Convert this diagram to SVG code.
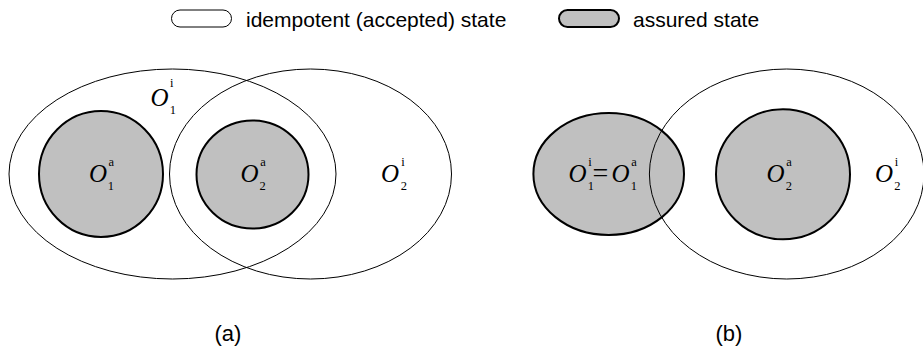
<svg xmlns="http://www.w3.org/2000/svg" width="923" height="349" viewBox="0 0 923 349">
  <style>
    .bg { fill: #ffffff; }
    .idem { fill: none; stroke: #000000; stroke-width: 1; }
    .assured { fill: #c0c0c0; stroke: #000000; stroke-width: 2; }
    .legend-idem { fill: #ffffff; stroke: #000000; stroke-width: 1; }
    .legend-assured { fill: #c0c0c0; stroke: #000000; stroke-width: 2; }
    .caption { font-family: "Liberation Sans", Arial, sans-serif; fill: #000000; }
    .math { font-family: "Liberation Serif", "Times New Roman", serif; fill: #000000; }
    .var { font-style: italic; font-size: 25px; }
    .idx { font-size: 12.5px; }
  </style>
  <rect class="bg" x="0" y="0" width="923" height="349"/>

  <!-- legend -->
  <g id="legend">
    <rect class="legend-idem" x="171.5" y="10" width="60" height="17" rx="8.5" ry="8.5"/>
    <text class="caption" x="246" y="26.7" font-size="21">idempotent (accepted) state</text>
    <rect class="legend-assured" x="559" y="10" width="60" height="17" rx="8.5" ry="8.5"/>
    <text class="caption" x="633" y="26.7" font-size="21">assured state</text>
  </g>

  <!-- panel (a) -->
  <g id="a-O1i">
    <ellipse class="idem" cx="172.5" cy="174" rx="163.5" ry="105"/>
  </g>
  <g id="a-O2i">
    <ellipse class="idem" cx="310.5" cy="174" rx="141" ry="105"/>
  </g>
  <g id="a-O1a">
    <ellipse class="assured" cx="101" cy="174" rx="62" ry="63"/>
  </g>
  <g id="a-O2a">
    <ellipse class="assured" cx="252.5" cy="174.5" rx="56" ry="54"/>
  </g>
  <g id="a-labels" class="math">
    <text class="var" x="150.5" y="106">O</text>
    <text class="idx" x="170" y="87.3">i</text>
    <text class="idx" x="169.8" y="113.5">1</text>

    <text class="var" x="89" y="182">O</text>
    <text class="idx" x="108.5" y="165.7">a</text>
    <text class="idx" x="107.8" y="190">1</text>

    <text class="var" x="240.5" y="182">O</text>
    <text class="idx" x="260.3" y="165.7">a</text>
    <text class="idx" x="259.6" y="190">2</text>

    <text class="var" x="381" y="182">O</text>
    <text class="idx" x="401.3" y="165.7">i</text>
    <text class="idx" x="400.8" y="190">2</text>
  </g>
  <text class="caption" x="228" y="341" font-size="22" text-anchor="middle">(a)</text>

  <!-- panel (b) -->
  <g id="b-O1">
    <ellipse class="assured" cx="608.7" cy="174" rx="75.3" ry="61"/>
  </g>
  <g id="b-O2i">
    <ellipse class="idem" cx="786.7" cy="174" rx="137.3" ry="105"/>
  </g>
  <g id="b-O2a">
    <ellipse class="assured" cx="783" cy="174.3" rx="67" ry="65"/>
  </g>
  <g id="b-labels" class="math">
    <text class="var" x="568.5" y="182">O</text>
    <text class="idx" x="588.3" y="165.7">i</text>
    <text class="idx" x="587.8" y="190">1</text>
    <text x="592.5" y="182" font-size="28">=</text>
    <text class="var" x="611.5" y="182">O</text>
    <text class="idx" x="631.3" y="165.7">a</text>
    <text class="idx" x="630.8" y="190">1</text>

    <text class="var" x="766.5" y="182">O</text>
    <text class="idx" x="786.3" y="165.7">a</text>
    <text class="idx" x="785.8" y="190">2</text>

    <text class="var" x="875" y="182">O</text>
    <text class="idx" x="894.8" y="165.7">i</text>
    <text class="idx" x="894.3" y="190">2</text>
  </g>
  <text class="caption" x="729" y="341" font-size="22" text-anchor="middle">(b)</text>
</svg>
